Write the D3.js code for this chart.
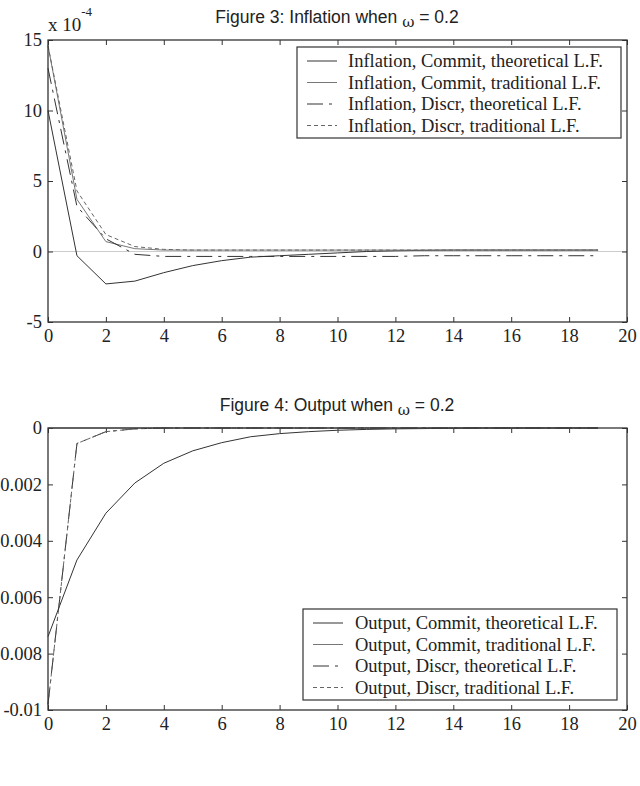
<!DOCTYPE html>
<html>
<head>
<meta charset="utf-8">
<script src="https://cdn.jsdelivr.net/npm/d3@7"></script>
<style>
  body { margin: 0; background: #fff; }
  svg { display: block; }
  .tick text { font-family: "Liberation Serif", "Times New Roman", serif; font-size: 18.5px; fill: #222; }
  .tick line { stroke: #333; }
  .domain { display: none; }
  .title { font-family: "Liberation Sans", Arial, sans-serif; font-size: 17.5px; fill: #222; }
  .legend text { font-family: "Liberation Serif", "Times New Roman", serif; font-size: 18.5px; fill: #222; }
</style>
</head>
<body>
<div id="chart"></div>
<script>
// periods 0..19
var periods = d3.range(0, 20);
var xTicks = [0, 2, 4, 6, 8, 10, 12, 14, 16, 18, 20];

// Figure 3: inflation, in units of 1e-4
var infCommitTheo = [10, -0.3, -2.3, -2.1, -1.5, -1.0, -0.65, -0.4, -0.3, -0.2, -0.1, 0.0, 0.05, 0.08, 0.1, 0.1, 0.1, 0.1, 0.1, 0.1];
var infCommitTrad = [14.6, 3.7, 0.7, 0.2, 0.1, 0.1, 0.1, 0.1, 0.1, 0.1, 0.1, 0.1, 0.1, 0.1, 0.1, 0.1, 0.1, 0.1, 0.1, 0.1];
var infDiscrTheo  = [13, 3.2, 0.9, -0.2, -0.35, -0.35, -0.35, -0.35, -0.35, -0.35, -0.35, -0.35, -0.35, -0.3, -0.3, -0.3, -0.3, -0.3, -0.3, -0.3];
var infDiscrTrad  = [14.6, 4.3, 1.2, 0.35, 0.15, 0.1, 0.1, 0.1, 0.1, 0.1, 0.1, 0.1, 0.1, 0.1, 0.1, 0.1, 0.1, 0.1, 0.1, 0.1];
var infTicks = [-5, 0, 5, 10, 15];

// Figure 4: output
var outCommitTheo = [-0.0074, -0.00468, -0.00302, -0.00195, -0.00125, -0.00081, -0.00052, -0.00031, -0.0002, -0.00013, -0.00008, -0.00005, -0.00003, -0.00002, -0.00001, 0, 0, 0, 0, 0];
var outCommitTrad = [0, 0, 0, 0, 0, 0, 0, 0, 0, 0, 0, 0, 0, 0, 0, 0, 0, 0, 0, 0];
var outDiscrTheo  = [-0.0098, -0.00055, -0.00013, -0.00003, 0, 0, 0, 0, 0, 0, 0, 0, 0, 0, 0, 0, 0, 0, 0, 0];
var outDiscrTrad  = [-0.0098, -0.00055, -0.00013, -0.00003, 0, 0, 0, 0, 0, 0, 0, 0, 0, 0, 0, 0, 0, 0, 0, 0];
var outTicks = [-0.01, -0.008, -0.006, -0.004, -0.002, 0];

var infLabels = ["Inflation, Commit, theoretical L.F.", "Inflation, Commit, traditional L.F.",
                 "Inflation, Discr, theoretical L.F.", "Inflation, Discr, traditional L.F."];
var outLabels = ["Output, Commit, theoretical L.F.", "Output, Commit, traditional L.F.",
                 "Output, Discr, theoretical L.F.", "Output, Discr, traditional L.F."];

var styles = [
  { color: "#333", dash: null },
  { color: "#777", dash: null },
  { color: "#333", dash: "16,6,3,6" },
  { color: "#666", dash: "4,3" }
];

var W = 640, H = 786;
var svg = d3.select("#chart").append("svg").attr("width", W).attr("height", H);

function panel(opt) {
  var x = d3.scaleLinear().domain([0, 20]).range([48, 627]);
  var y = d3.scaleLinear().domain(opt.yDomain).range([opt.bottom, opt.top]);
  var g = svg.append("g");

  g.append("text").attr("class", "title")
    .attr("x", 337).attr("y", opt.top - 17).attr("text-anchor", "middle")
    .html(opt.title + ' <tspan font-family="DejaVu Serif" font-size="15px" dy="4">ω</tspan><tspan dy="-4"> = 0.2</tspan>');

  if (opt.zeroLine) {
    g.append("line").attr("x1", x(0)).attr("x2", x(20))
      .attr("y1", y(0)).attr("y2", y(0)).attr("stroke", "#ccc").attr("stroke-width", 1);
  }

  g.append("g").attr("transform", "translate(0," + opt.bottom + ")")
    .call(d3.axisBottom(x).tickValues(xTicks).tickSize(-5).tickPadding(7).tickFormat(d3.format("d")));
  g.append("g").attr("transform", "translate(0," + opt.top + ")")
    .call(d3.axisTop(x).tickValues(xTicks).tickSize(-5).tickFormat(""));
  g.append("g").attr("transform", "translate(48,0)")
    .call(d3.axisLeft(y).tickValues(opt.yTicks).tickSize(-5).tickPadding(6).tickFormat(opt.fmt));
  g.append("g").attr("transform", "translate(627,0)")
    .call(d3.axisRight(y).tickValues(opt.yTicks).tickSize(-5).tickFormat(""));

  var line = d3.line().x(function(d, i) { return x(periods[i]); }).y(function(d) { return y(d); });
  opt.series.forEach(function(s, i) {
    g.append("path").datum(s)
      .attr("d", line).attr("fill", "none")
      .attr("stroke", styles[i].color).attr("stroke-width", 1)
      .attr("stroke-dasharray", styles[i].dash);
  });

  g.append("rect").attr("x", 48).attr("y", opt.top)
    .attr("width", 579).attr("height", opt.bottom - opt.top)
    .attr("fill", "none").attr("stroke", "#333").attr("stroke-width", 1.3);

  var lg = g.append("g").attr("class", "legend");
  var L = opt.legend;
  lg.append("rect").attr("x", L.x).attr("y", L.y).attr("width", L.w).attr("height", L.h)
    .attr("fill", "#fff").attr("stroke", "#333").attr("stroke-width", 1.2);
  opt.labels.forEach(function(t, i) {
    var ry = L.y + 14 + i * 21.5;
    lg.append("line").attr("x1", L.x + L.s0).attr("x2", L.x + L.s0 + 30)
      .attr("y1", ry).attr("y2", ry)
      .attr("stroke", styles[i].color).attr("stroke-width", 1)
      .attr("stroke-dasharray", styles[i].dash);
    lg.append("text").attr("x", L.x + L.t0).attr("y", ry + 6).text(t);
  });
  return g;
}

var g1 = panel({
  title: "Figure 3: Inflation when", top: 40, bottom: 322,
  yDomain: [-5, 15], yTicks: infTicks, fmt: function(d) { return String(d); },
  series: [infCommitTheo, infCommitTrad, infDiscrTheo, infDiscrTrad],
  labels: infLabels, zeroLine: true,
  legend: { x: 297, y: 47, w: 324, h: 91, s0: 10, t0: 51 }
});
g1.append("text").attr("x", 48).attr("y", 31)
  .attr("font-family", "Liberation Serif, serif").attr("font-size", "19px").attr("fill", "#222")
  .html('x 10<tspan font-size="13px" dy="-15">-4</tspan>');

panel({
  title: "Figure 4: Output when", top: 428, bottom: 710,
  yDomain: [-0.01, 0], yTicks: outTicks, fmt: function(d) { return d === 0 ? "0" : String(+d.toFixed(3)); },
  series: [outCommitTheo, outCommitTrad, outDiscrTheo, outDiscrTrad],
  labels: outLabels, zeroLine: false,
  legend: { x: 303, y: 609, w: 314, h: 91, s0: 10, t0: 52 }
});
</script>
</body>
</html>
